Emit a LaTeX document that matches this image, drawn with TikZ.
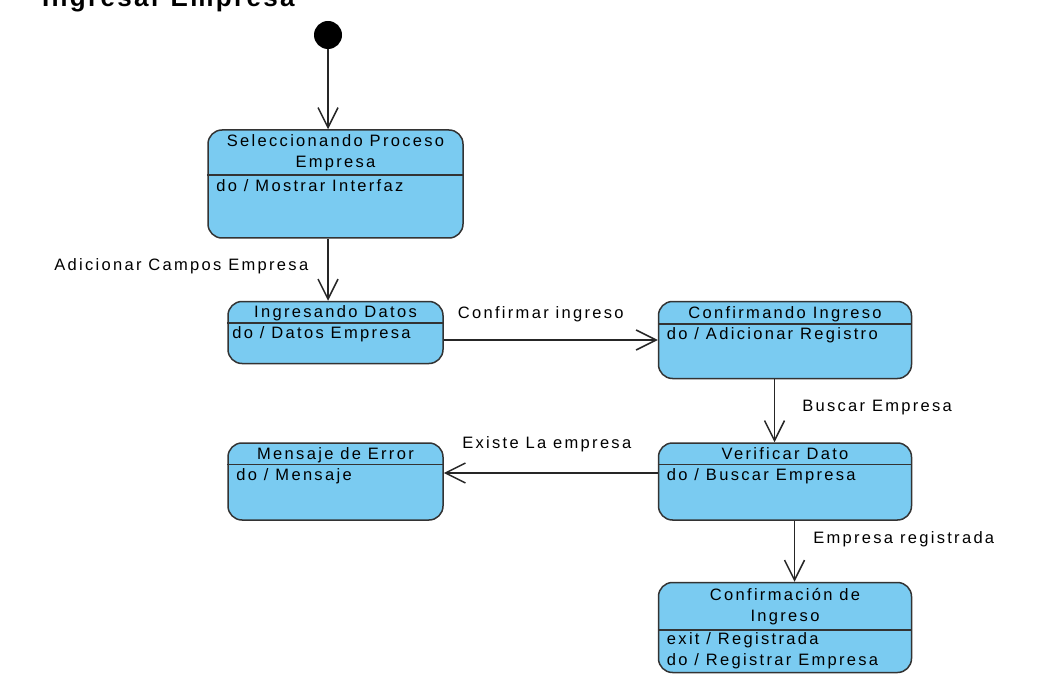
\documentclass[tikz,border=0pt]{standalone}
\usepackage{fontspec}
\usepackage{tikz}
\usetikzlibrary{arrows.meta,positioning,calc}
\newfontfamily\vpfont{Liberation Sans}[LetterSpace=14]
\newfontfamily\vptitle{Liberation Sans}[LetterSpace=9]
\definecolor{StateFill}{HTML}{7ACBF1}
\definecolor{StateLine}{HTML}{333333}

\begin{document}
\begin{tikzpicture}[x=1pt,y=-1pt,
    state/.style={rectangle,rounded corners=14pt,draw=StateLine,fill=StateFill,line width=1.5pt,inner sep=0pt},
    sttitle/.style={anchor=base,align=center,inner sep=0pt,font=\vpfont\fontsize{16.5}{21}\selectfont},
    stbody/.style={anchor=base west,align=left,inner sep=0pt,font=\vpfont\fontsize{16.5}{21}\selectfont},
    divider/.style={draw=StateLine,line width=1.5pt},
    lbl/.style={inner sep=0pt,font=\vpfont\fontsize{16.5}{21}\selectfont},
    trans/.style={-{Straight Barb[length=20pt,width=20pt]},line width=1.5pt,draw=black!85}
]
\useasboundingbox (0,0) rectangle (1042,687);

% title (cut at the top edge)
\node[anchor=base west,inner sep=0pt,font=\vptitle\bfseries\fontsize{26}{30}\selectfont] (diagTitle) at (42,7) {Ingresar Empresa};

% initial state
\node[circle,fill=black,minimum size=28pt,inner sep=0pt] (init) at (328,35) {};

% states
\node[state,minimum width=255pt,minimum height=108pt] (sel) at (335.5,184) {};
\node[state,minimum width=215pt,minimum height=62pt,below=62pt of sel] (ing) {};
\node[state,minimum width=215pt,minimum height=77pt,below=78pt of ing] (err) {};
\node[state,minimum width=253pt,minimum height=77pt,right=214pt of err] (ver) {};
\node[state,minimum width=253pt,minimum height=77pt,above=63pt of ver] (conf) {};
\node[state,minimum width=253pt,minimum height=90pt,below=61pt of ver] (reg) {};

% compartments
\draw[divider] ([yshift=-46pt]sel.north west) -- ([yshift=-46pt]sel.north east);
\draw[divider] ([yshift=-22pt]ing.north west) -- ([yshift=-22pt]ing.north east);
\draw[divider] ([yshift=-23pt]conf.north west) -- ([yshift=-23pt]conf.north east);
\draw[divider] ([yshift=-22pt]ver.north west) -- ([yshift=-22pt]ver.north east);
\draw[divider] ([yshift=-22pt]err.north west) -- ([yshift=-22pt]err.north east);
\draw[divider] ([yshift=-48pt]reg.north west) -- ([yshift=-48pt]reg.north east);

% state texts (base = last line)
\node[sttitle] (selT) at ([yshift=-38.5pt]sel.north) {Seleccionando Proceso\\Empresa};
\node[stbody] (selB) at ([xshift=9pt,yshift=-62pt]sel.north west) {do / Mostrar Interfaz};
\node[sttitle] (ingT) at ([yshift=-16.5pt]ing.north) {Ingresando Datos};
\node[stbody] (ingB) at ([xshift=5pt,yshift=-38pt]ing.north west) {do / Datos Empresa};
\node[sttitle] (confT) at ([yshift=-17.5pt]conf.north) {Confirmando Ingreso};
\node[stbody] (confB) at ([xshift=9pt,yshift=-39pt]conf.north west) {do / Adicionar Registro};
\node[sttitle] (verT) at ([yshift=-17.5pt]ver.north) {Verificar Dato};
\node[stbody] (verB) at ([xshift=9pt,yshift=-38pt]ver.north west) {do / Buscar Empresa};
\node[sttitle] (errT) at ([yshift=-17.5pt]err.north) {Mensaje de Error};
\node[stbody] (errB) at ([xshift=9pt,yshift=-38pt]err.north west) {do / Mensaje};
\node[sttitle] (regT) at ([yshift=-39.5pt]reg.north) {Confirmación de\\Ingreso};
\node[stbody] (regB) at ([xshift=9pt,yshift=-83.5pt]reg.north west) {exit / Registrada\\do / Registrar Empresa};

% transitions
\draw[trans] (init) -- (init |- sel.north);
\draw[trans] (sel.south -| init) -- (ing.north -| init)
    node[lbl,midway,left=19pt,yshift=4pt] {Adicionar Campos Empresa};
\draw[trans] (ing.east |- conf.west) -- (conf.west)
    node[lbl,midway,above=17pt,xshift=-10pt] {Confirmar ingreso};
\draw[trans] ([xshift=-10.5pt]conf.south) -- ([xshift=-10.5pt]ver.north)
    node[lbl,midway,right=27pt,yshift=3pt] {Buscar Empresa};
\draw[trans] ([yshift=8.5pt]ver.west) -- ([yshift=8.5pt]err.east)
    node[lbl,midway,above=20pt,xshift=-4pt] {Existe La empresa};
\draw[trans] ([xshift=9.5pt]ver.south) -- ([xshift=9.5pt]reg.north)
    node[lbl,pos=0.3,right=18pt] {Empresa registrada};
\end{tikzpicture}
\end{document}
